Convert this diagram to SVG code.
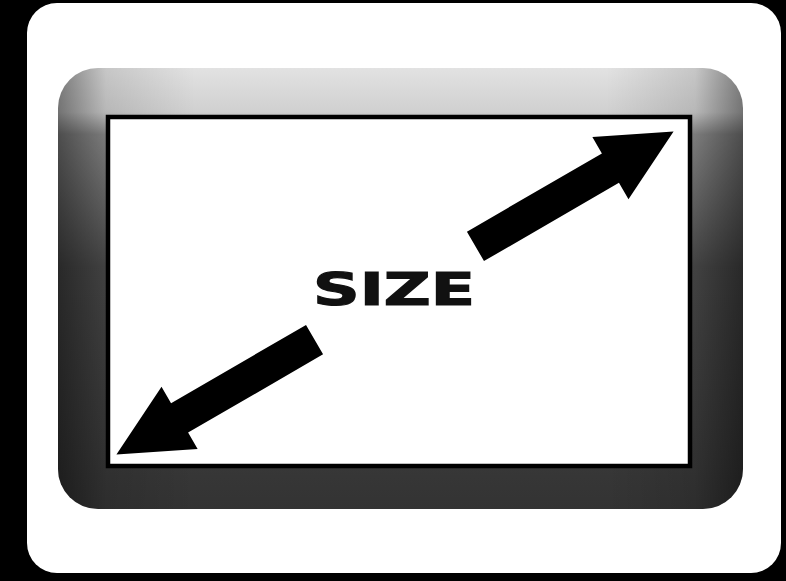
<svg xmlns="http://www.w3.org/2000/svg" width="786" height="581" viewBox="0 0 786 581">
<style>
.arrow{fill:#000}
.label{font-family:"DejaVu Sans","Liberation Sans",sans-serif;font-weight:bold;font-size:44px;fill:#111;stroke:#111;stroke-width:1.2}
</style>
<defs>
<linearGradient id="fv" x1="0" y1="0" x2="0" y2="1">
<stop offset="0" stop-color="#e2e2e2"/>
<stop offset="0.1" stop-color="#d0d0d0"/>
<stop offset="0.15" stop-color="#8c8c8c"/>
<stop offset="0.45" stop-color="#4a4a4a"/>
<stop offset="1" stop-color="#333"/>
</linearGradient>
<linearGradient id="fh" x1="0" y1="0" x2="1" y2="0">
<stop offset="0" stop-color="#000" stop-opacity="0.45"/>
<stop offset="0.07" stop-color="#000" stop-opacity="0.12"/>
<stop offset="0.2" stop-color="#000" stop-opacity="0"/>
<stop offset="0.8" stop-color="#000" stop-opacity="0"/>
<stop offset="0.93" stop-color="#000" stop-opacity="0.12"/>
<stop offset="1" stop-color="#000" stop-opacity="0.45"/>
</linearGradient>
<polygon id="arr" points="93,-17 249,-17 249,-36 322,0 249,36 249,17 93,17"/>
</defs>
<rect width="786" height="581" fill="#000"/>
<g id="card"><rect x="27" y="3" width="754" height="570" rx="30" fill="#fff"/></g>
<g id="frame">
<rect x="58" y="68" width="685" height="441" rx="40" fill="url(#fv)"/>
<rect x="58" y="68" width="685" height="441" rx="40" fill="url(#fh)"/>
</g>
<g id="screen"><rect x="108" y="117" width="582" height="349" fill="#fff" stroke="#000" stroke-width="4.5"/></g>
<g id="connectors">
<use href="#arr" class="arrow" transform="translate(395 293) rotate(-30.1)"/>
<use href="#arr" class="arrow" transform="translate(395 293) rotate(149.9)"/>
</g>
<g id="size-label"><text class="label" x="313" y="305" textLength="162" lengthAdjust="spacingAndGlyphs">SIZE</text></g>
</svg>
